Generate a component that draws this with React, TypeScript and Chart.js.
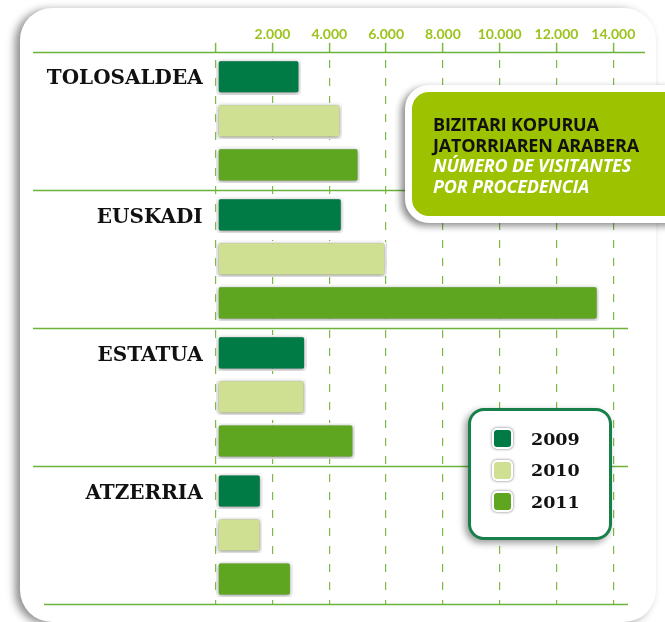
import React, { useEffect, useRef } from "react";
import { Chart, registerables } from "chart.js";

Chart.register(...registerables);

const CATEGORIES = ["TOLOSALDEA", "EUSKADI", "ESTATUA", "ATZERRIA"];
const YEARS = ["2009", "2010", "2011"];
const VALUES_2009 = [3000, 4490, 3200, 1640];
const VALUES_2010 = [4440, 6020, 3180, 1630];
const VALUES_2011 = [5080, 13500, 4900, 2700];
const SERIES = [VALUES_2009, VALUES_2010, VALUES_2011];
const COLORS = ["#007b45", "#cfe093", "#5ea520"];
const TICK_LABELS = ["", "2.000", "4.000", "6.000", "8.000", "10.000", "12.000", "14.000"];
const TITLE_EU = ["BIZITARI KOPURUA", "JATORRIAREN ARABERA"];
const TITLE_ES = ["NÚMERO DE VISITANTES", "POR PROCEDENCIA"];

const LINE_GREEN = "#6cb33a";
const GRID_GREEN = "#7db944";
const TICK_GREEN = "#9ac31c";

const decorPlugin = {
  id: "decor",
  beforeDatasetsDraw(chart: any) {
    const { ctx, chartArea } = chart;
    const y = chart.scales.y;
    const n = CATEGORIES.length;
    const band = (chartArea.bottom - chartArea.top) / n;
    ctx.save();
    ctx.strokeStyle = LINE_GREEN;
    ctx.lineWidth = 1.6;
    for (let i = 0; i <= n; i++) {
      const py = Math.round(y.top + i * band) + 0.5;
      const x1 = i === n ? 44 : 33;
      const x2 = i === 0 ? 645 : 628;
      ctx.beginPath();
      ctx.moveTo(x1, py);
      ctx.lineTo(x2, py);
      ctx.stroke();
    }
    ctx.restore();
    ctx.save();
    ctx.shadowColor = "rgba(0,0,0,0.45)";
    ctx.shadowBlur = 4;
    ctx.shadowOffsetX = 0;
    ctx.shadowOffsetY = 1;
  },
  afterDatasetsDraw(chart: any) {
    const { ctx, chartArea } = chart;
    ctx.restore();
    const meta = chart.getDatasetMeta(0);
    ctx.save();
    ctx.fillStyle = "#111";
    ctx.font = "bold 20px 'DejaVu Serif'";
    ctx.textAlign = "right";
    ctx.textBaseline = "middle";
    CATEGORIES.forEach((c, i) => {
      const el = meta.data[i];
      ctx.fillText(c, chartArea.left - 13, el.y + 2.5);
    });
    ctx.restore();
  },
};

export default function App() {
  const ref = useRef<HTMLCanvasElement | null>(null);
  useEffect(() => {
    if (!ref.current) return;
    const chart = new Chart(ref.current, {
      type: "bar",
      data: {
        labels: CATEGORIES,
        datasets: YEARS.map((yr, i) => ({
          label: yr,
          data: SERIES[i],
          backgroundColor: COLORS[i],
          borderColor: "#ffffff",
          borderWidth: 2.5,
          borderRadius: 4,
          borderSkipped: false,
          categoryPercentage: 0.957,
          barPercentage: 0.82,
        })),
      },
      options: {
        indexAxis: "y",
        responsive: false,
        animation: false,
        layout: { padding: { left: 215.7, right: 51.7, top: 26, bottom: 18 } },
        plugins: { legend: { display: false }, tooltip: { enabled: false } },
        scales: {
          x: {
            position: "top",
            min: 0,
            max: 14000,
            ticks: {
              stepSize: 2000,
              padding: 0,
              color: TICK_GREEN,
              font: { family: "Lato", weight: "bold", size: 14 },
              callback: (_v: any, idx: number) => TICK_LABELS[idx],
            },
            grid: {
              color: GRID_GREEN,
              lineWidth: 1.2,
              tickLength: 9,
              tickColor: GRID_GREEN,
              tickWidth: 1.5,
            },
            border: { display: false, dash: [8, 10], dashOffset: 10 },
          },
          y: { display: false },
        },
      },
      plugins: [decorPlugin],
    } as any);
    return () => chart.destroy();
  }, []);

  return (
    <div
      style={{
        position: "fixed",
        left: 0,
        top: 0,
        width: 665,
        height: 622,
        overflow: "hidden",
        background: "#ffffff",
      }}
    >
      <div
        style={{
          position: "absolute",
          left: 20,
          top: 8,
          width: 636,
          height: 614,
          borderRadius: 32,
          background: "#ffffff",
          boxShadow: "-5px 2px 8px rgba(0,0,0,0.45)",
        }}
      />
      <canvas
        ref={ref}
        width={665}
        height={622}
        style={{ position: "absolute", left: 0, top: 0, width: 665, height: 622 }}
      />
      <div
        style={{
          position: "absolute",
          left: 405,
          top: 85,
          width: 290,
          height: 102,
          border: "7px solid #ffffff",
          borderRadius: 24,
          background: "#9dc200",
          boxShadow: "-4px 3px 7px rgba(0,0,0,0.45)",
          padding: "22px 0 0 21px",
          boxSizing: "content-box",
          fontFamily: "'Open Sans', sans-serif",
          fontWeight: 700,
          fontSize: 18,
          lineHeight: "20.5px",
          letterSpacing: -0.2,
        }}
      >
        {TITLE_EU.map((t) => (
          <div key={t} style={{ color: "#111" }}>{t}</div>
        ))}
        {TITLE_ES.map((t) => (
          <div key={t} style={{ color: "#ffffff", fontStyle: "italic" }}>{t}</div>
        ))}
      </div>
      <div
        style={{
          position: "absolute",
          left: 468,
          top: 408,
          width: 138,
          height: 114,
          border: "3px solid #17804a",
          borderRadius: 16,
          background: "#ffffff",
          boxShadow: "-3px 3px 7px rgba(0,0,0,0.4)",
          paddingTop: 12,
          boxSizing: "content-box",
        }}
      >
        {YEARS.map((yr, i) => (
          <div
            key={yr}
            style={{ display: "flex", alignItems: "center", height: 31.5, paddingLeft: 21 }}
          >
            <div
              style={{
                width: 17,
                height: 17,
                background: COLORS[i],
                border: "2.5px solid #ffffff",
                borderRadius: 5,
                boxShadow: "0 0 3px rgba(0,0,0,0.55)",
              }}
            />
            <span
              style={{
                marginLeft: 18,
                fontFamily: "'DejaVu Serif', serif",
                fontWeight: 700,
                fontSize: 17.5,
                color: "#111",
              }}
            >
              {yr}
            </span>
          </div>
        ))}
      </div>
    </div>
  );
}
